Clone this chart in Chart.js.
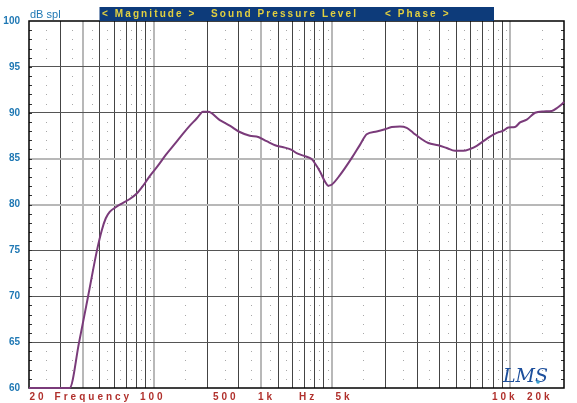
<!DOCTYPE html>
<html><head><meta charset="utf-8">
<script src="https://cdn.jsdelivr.net/npm/chart.js@4.4.1/dist/chart.umd.min.js"></script>
<style>html,body{margin:0;padding:0;background:#fff;}#wrap{position:relative;width:577px;height:403px;}</style>
</head><body><div id="wrap"><canvas id="c" width="577" height="403"></canvas></div>
<script>
// ---- data ----
const freqHz = [20, 33, 33.8, 38.2, 42.9, 48.1, 51.2, 53.9, 56.7, 61.3, 66.3, 73.5, 80.4, 86.9, 95.1, 105.5, 117, 131.4, 145.8, 159.6, 174.7, 181.6, 188.7, 202, 235, 267, 304, 346, 386, 430, 489, 544, 594, 633, 721, 769, 802, 856, 913, 953, 995, 1108, 1289, 1435, 1565, 1781, 1982, 2162, 2406, 2624, 2858, 3116, 3468, 3946, 4399, 4897, 5452, 5944, 6484, 7058, 7698, 8394, 9140, 9750, 10632, 11340, 12366, 13766, 15326, 17086, 18228, 19844, 20000];
const splDb = [60, 60, 60, 65, 70, 75, 77.2, 78.5, 79.2, 79.7, 80.1, 80.6, 81.2, 82.0, 83.1, 84.2, 85.4, 86.6, 87.7, 88.6, 89.4, 89.8, 90.1, 90.1, 89.2, 88.6, 87.9, 87.5, 87.35, 86.9, 86.4, 86.2, 85.95, 85.6, 85.2, 84.95, 84.5, 83.6, 82.5, 82.05, 82.15, 83.2, 85.05, 86.5, 87.65, 87.95, 88.2, 88.45, 88.5, 88.35, 87.8, 87.25, 86.7, 86.45, 86.15, 85.85, 85.85, 86.05, 86.4, 86.9, 87.4, 87.8, 88.05, 88.4, 88.45, 88.95, 89.25, 90.0, 90.15, 90.2, 90.5, 91.1, 91.2];
const yTickValues = [60, 65, 70, 75, 80, 85, 90, 95, 100];
const majorFreqs = [30, 40, 50, 60, 70, 80, 90, 100, 200, 300, 400, 500, 600, 700, 800, 900, 1000, 2000, 3000, 4000, 5000, 6000, 7000, 8000, 9000, 10000];
const lightFreqs = [40, 100, 400, 1000, 10000];
const lightDb = [80, 85];
const minorFreqs = [25, 35, 45, 55, 65, 75, 85, 95, 150, 250, 350, 450, 550, 650, 750, 850, 950, 1500, 2500, 3500, 4500, 5500, 6500, 7500, 8500, 9500, 15000];
const bottomLabels = ['20', 'Frequency', '100', '500', '1k', 'Hz', '5k', '10k', '20k'];
const bottomLabelX = [29.5, 54.6, 140, 213, 258, 299, 335.5, 492, 527];
const titleParts = ['< Magnitude >', 'Sound Pressure Level', '< Phase >'];
const titlePartX = [102, 211, 385];
const yUnit = 'dB spl';
const logoText = 'LMS';

const points = freqHz.map((f, i) => ({x: f, y: splDb[i]}));

function spacedText(ctx, text, x, y, sp) {
  let cx = x;
  for (const ch of text) {
    ctx.fillText(ch, cx, y);
    cx += ctx.measureText(ch).width + sp;
  }
}

const decor = {
  id: 'decor',
  beforeDatasetsDraw(chart) {
    const {ctx, chartArea: a, scales: {x, y}} = chart;
    ctx.save();
    // minor dotted verticals
    ctx.fillStyle = '#a8a8a8';
    for (const f of minorFreqs) {
      const px = Math.round(x.getPixelForValue(f));
      for (let d = 61; d < 100; d++) {
        if (d % 5 === 0) continue;
        const py = Math.round(y.getPixelForValue(d));
        ctx.fillRect(px, py, 1, 1);
      }
    }
    // border dB ticks
    ctx.strokeStyle = '#333';
    ctx.lineWidth = 1;
    for (let d = 61; d < 100; d++) {
      const py = Math.round(y.getPixelForValue(d)) + 0.5;
      ctx.beginPath(); ctx.moveTo(a.left, py); ctx.lineTo(a.left + 3, py); ctx.stroke();
      ctx.beginPath(); ctx.moveTo(a.right - 3, py); ctx.lineTo(a.right, py); ctx.stroke();
    }
    // frame
    ctx.strokeStyle = '#000';
    ctx.lineWidth = 1.5;
    ctx.strokeRect(a.left, a.top, a.right - a.left, a.bottom - a.top);
    ctx.restore();
  },
  afterDraw(chart) {
    const {ctx, chartArea: a} = chart;
    ctx.save();
    // title banner
    ctx.fillStyle = '#0d3b7a';
    ctx.fillRect(99.5, 7, 394.5, a.top - 7);
    ctx.fillStyle = '#e2d040';
    ctx.font = 'bold 10px "Liberation Sans", Arial, sans-serif';
    ctx.textBaseline = 'middle';
    titleParts.forEach((t, i) => spacedText(ctx, t, titlePartX[i], 14.5, 2.1));
    // unit label
    ctx.fillStyle = '#1f78b4';
    ctx.font = '11px "Liberation Sans", Arial, sans-serif';
    ctx.fillText(yUnit, 30, 15);
    // bottom labels
    ctx.fillStyle = '#b0302c';
    ctx.font = 'bold 10px "Liberation Sans", Arial, sans-serif';
    bottomLabels.forEach((t, i) => spacedText(ctx, t, bottomLabelX[i], 397, 3));
    // logo
    ctx.fillStyle = '#1d4f9c';
    ctx.font = 'italic 19px "DejaVu Serif", serif';
    ctx.textBaseline = 'alphabetic';
    ctx.fillText(logoText, 503, 382);
    ctx.fillStyle = '#3aa0d0';
    ctx.beginPath(); ctx.arc(538, 382, 1.8, 0, Math.PI * 2); ctx.fill();
    ctx.restore();
  }
};

new Chart(document.getElementById('c'), {
  type: 'scatter',
  data: {datasets: [{
    data: points, showLine: true, pointRadius: 0, borderColor: '#7a3b7a', borderWidth: 2,
    cubicInterpolationMode: 'monotone', clip: 4
  }]},
  options: {
    responsive: false, animation: false, devicePixelRatio: 1,
    layout: {padding: {left: 0, right: 13, top: 21, bottom: 15}},
    plugins: {legend: {display: false}, tooltip: {enabled: false}},
    scales: {
      x: {
        type: 'logarithmic', min: 20, max: 20000,
        afterBuildTicks(s) { s.ticks = majorFreqs.map(v => ({value: v})); },
        afterFit(s) { s.height = 0; },
        ticks: {display: false},
        border: {display: false},
        grid: {
          drawTicks: false,
          color: c => lightFreqs.includes(c.tick.value) ? '#b8b8b8' : '#444',
          lineWidth: c => lightFreqs.includes(c.tick.value) ? 2 : 1
        }
      },
      y: {
        min: 60, max: 100,
        afterBuildTicks(s) { s.ticks = yTickValues.map(v => ({value: v})); },
        afterFit(s) { s.width = 29; },
        ticks: {color: '#1f78b4', font: {family: '"Liberation Sans", Arial, sans-serif', size: 10, weight: 'bold'}, padding: 9},
        border: {display: false},
        grid: {
          drawTicks: false,
          color: c => (c.tick.value === 60 || c.tick.value === 100) ? 'rgba(0,0,0,0)' : (lightDb.includes(c.tick.value) ? '#b8b8b8' : '#555'),
          lineWidth: c => lightDb.includes(c.tick.value) ? 2 : 1
        }
      }
    }
  },
  plugins: [decor]
});
</script></body></html>
